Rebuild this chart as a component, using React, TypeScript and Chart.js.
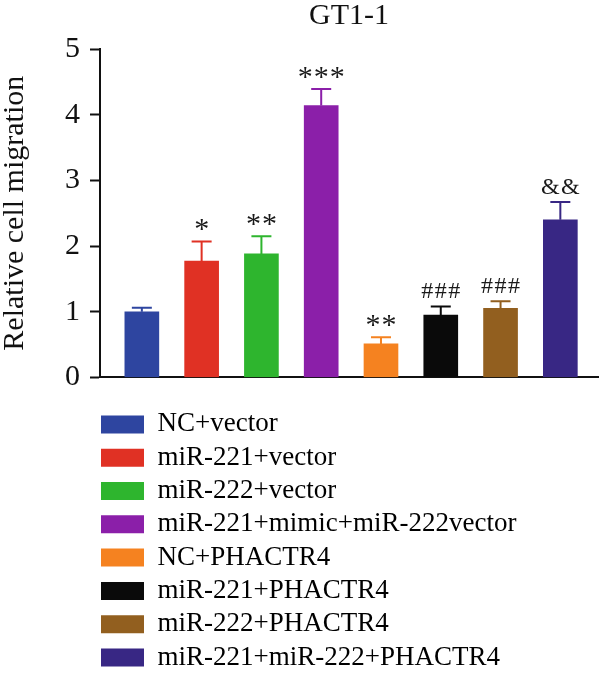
import React, { useEffect, useRef } from "react";
import { Chart, registerables } from "chart.js";

Chart.register(...registerables);

const SERIF = "'Liberation Serif', 'Times New Roman', serif";

const categories = [
  "NC+vector",
  "miR-221+vector",
  "miR-222+vector",
  "miR-221+mimic+miR-222vector",
  "NC+PHACTR4",
  "miR-221+PHACTR4",
  "miR-222+PHACTR4",
  "miR-221+miR-222+PHACTR4",
];
const values = [1.0, 1.77, 1.88, 4.14, 0.51, 0.95, 1.05, 2.4];
const errors = [0.06, 0.3, 0.27, 0.25, 0.1, 0.13, 0.11, 0.27];
const marks = ["", "*", "**", "***", "**", "###", "###", "&&"];
const colors = [
  "#2E45A0",
  "#E03124",
  "#2EB52E",
  "#8B1FA9",
  "#F58220",
  "#0A0A0A",
  "#925F1F",
  "#382784",
];
const yTicks = [0, 1, 2, 3, 4, 5];
const chartTitle = "GT1-1";
const yTitle = "Relative cell migration";

const errorBarsPlugin = {
  id: "errorBars",
  afterDatasetsDraw(chart: any) {
    const { ctx, scales } = chart;
    const x = scales.x;
    const y = scales.y;
    ctx.save();
    values.forEach((v, i) => {
      const px = x.getPixelForValue(i);
      const yb = y.getPixelForValue(v);
      const yt = y.getPixelForValue(v + errors[i]);
      ctx.strokeStyle = colors[i];
      ctx.lineWidth = 2;
      ctx.beginPath();
      ctx.moveTo(px, yb);
      ctx.lineTo(px, yt);
      ctx.moveTo(px - 10, yt);
      ctx.lineTo(px + 10, yt);
      ctx.stroke();
      const m = marks[i];
      if (m) {
        const star = m[0] === "*";
        ctx.fillStyle = "#1a1a1a";
        ctx.font = `${star ? 30 : 24}px ${SERIF}`;
        ctx.textAlign = "center";
        ctx.textBaseline = "alphabetic";
        const ls = star ? 1 : 1.5;
        try {
          (ctx as any).letterSpacing = `${ls}px`;
        } catch (e) {}
        ctx.fillText(m, px + ls / 2, yt - (star ? 3 : 8));
      }
    });
    ctx.restore();
  },
};

const shiftLegendPlugin = {
  id: "shiftLegend",
  afterLayout(chart: any) {
    const lg = chart.legend;
    if (lg) {
      lg.left -= 5.3;
      lg.right -= 5.3;
    }
  },
};

export default function App() {
  const ref = useRef<HTMLCanvasElement>(null);

  useEffect(() => {
    const canvas = ref.current;
    if (!canvas) return;
    const chart = new Chart(canvas, {
      type: "bar",
      data: {
        labels: categories,
        datasets: [
          {
            data: values.map((v, i) => ({ x: i, y: v })) as any,
            backgroundColor: colors,
            borderWidth: 0,
            barThickness: 34,
          },
        ],
      },
      options: {
        responsive: false,
        animation: false,
        layout: { padding: { left: 0, right: 2, top: 0, bottom: 0 } },
        scales: {
          x: {
            type: "linear",
            min: -0.7,
            max: 7.63,
            offset: false,
            grid: { display: false, offset: false },
            ticks: { display: false },
            border: { display: true, color: "#111", width: 2 },
            afterFit: (s: any) => {
              s.height = 27.2;
            },
          },
          y: {
            min: 0,
            max: 5,
            afterBuildTicks: (s: any) => {
              s.ticks = yTicks.map((v) => ({ value: v }));
            },
            ticks: {
              color: "#111",
              padding: 10,
              font: { family: SERIF, size: 30 },
            },
            grid: {
              drawOnChartArea: false,
              drawTicks: true,
              tickLength: 10,
              tickWidth: 2,
              tickColor: "#111",
            },
            border: { display: true, color: "#111", width: 2 },
            title: {
              display: true,
              text: yTitle,
              color: "#111",
              font: { family: SERIF, size: 30, lineHeight: 1 },
              padding: { top: 0, bottom: 0 },
            },
            afterFit: (s: any) => {
              s.width = 100;
            },
          },
        },
        plugins: {
          tooltip: { enabled: false },
          title: {
            display: true,
            text: chartTitle,
            fullSize: false,
            color: "#111",
            font: { family: SERIF, size: 30, weight: "normal", lineHeight: 1 },
            padding: { top: 1.5, bottom: 17.5 },
          },
          legend: {
            display: true,
            position: "bottom",
            align: "start",
            fullSize: false,
            labels: {
              boxWidth: 43,
              boxHeight: 18,
              padding: 6.3,
              color: "#111",
              font: { family: SERIF, size: 27 },
              generateLabels: () =>
                categories.map((c, i) => ({
                  text: c + "\u2003".repeat(12),
                  fillStyle: colors[i],
                  strokeStyle: colors[i],
                  lineWidth: 0,
                  hidden: false,
                  index: i,
                  datasetIndex: 0,
                })),
            },
          },
        },
      } as any,
      plugins: [errorBarsPlugin, shiftLegendPlugin],
    });
    return () => chart.destroy();
  }, []);

  return (
    <div
      style={{
        position: "absolute",
        left: 0,
        top: 0,
        width: 600,
        height: 675,
        overflow: "hidden",
        background: "#fff",
      }}
    >
      <canvas ref={ref} width={600} height={681} style={{ display: "block" }} />
    </div>
  );
}
